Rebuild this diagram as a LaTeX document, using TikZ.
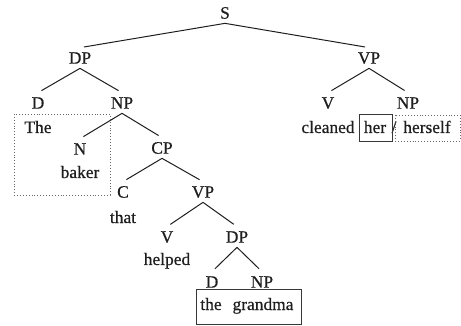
\documentclass[tikz,border=0pt]{standalone}
\usepackage{fontspec}
\setmainfont[FakeBold=0.6]{Liberation Serif}
\usetikzlibrary{positioning}
\definecolor{inkcolor}{RGB}{30,30,30}
\definecolor{boxcolor}{RGB}{55,55,55}
\definecolor{dotcolor}{RGB}{105,105,105}
\tikzset{
  %% cat : a category label of the tree
  cat/.style={
    inner sep=4.5pt,
    text height=11.3pt,
    text depth=0pt,
    text=inkcolor
  },
  %% word : a terminal word, placed on its baseline
  word/.style={
    inner sep=0pt,
    anchor=base,
    text=inkcolor
  },
  %% branch : line from mother to daughter
  branch/.style={draw=inkcolor, line width=1pt, shorten >=4pt},
  %% markbox : solid box round a phrase
  markbox/.style={draw=boxcolor, line width=0.9pt},
  %% dotbox : dotted box round a phrase
  dotbox/.style={draw=dotcolor, line width=0.9pt, dash pattern=on 0.9pt off 2pt}
}

\begin{document}
\begin{tikzpicture}
  [x=1pt,
  y=-1pt]
  \fontsize{17.4}{20}\selectfont
  \useasboundingbox (0,0) rectangle (461,326);

  %% Grid for orientation. Comment out for final figure!
  %\draw[help lines, green](0, 0) grid[step=20] (461, 326);

  %% Categories
  \node (s) [cat] at (225, 13) {S};

  \node (dp1) [cat] at (80, 58) {DP};
  \node (d1) [cat] at (38, 103) {D};
  \node (np1) [cat] at (122, 103) {NP};
  \node (n1) [cat] at (80, 149) {N};
  \node (cp) [cat] at (162, 148) {CP};
  \node (c) [cat] at (123, 192) {C};
  \node (vp2) [cat] at (203, 192) {VP};
  \node (v2) [cat] at (167, 237) {V};
  \node (dp2) [cat] at (237, 237) {DP};
  \node (d2) [cat] at (212, 282) {D};
  \node (np2) [cat] at (262, 282) {NP};

  \node (vp1) [cat] at (369, 58) {VP};
  \node (v1) [cat] at (328, 103) {V};
  \node (np3) [cat] at (408, 103) {NP};

  %% Words
  \node (the1) [word] at (38, 133) {The};
  \node (baker) [word] at (80, 178) {baker};
  \node (that) [word] at (123, 223) {that};
  \node (helped) [word] at (167, 265) {helped};
  \node (the2) [word] at (211, 310) {the};
  \node (grandma) [word] at (263, 310) {grandma};
  \node (cleaned) [word] at (328, 133) {cleaned};
  \node (her) [word] at (375, 133) {her};
  \node (slash) [word] at (394, 133) {/};
  \node (herself) [word] at (427, 133) {herself};

  %% Connections
  \draw [branch] (s.south) -- (dp1.north);
  \draw [branch] (s.south) -- (vp1.north);
  \draw [branch] (dp1.south) -- (d1.north);
  \draw [branch] (dp1.south) -- (np1.north);
  \draw [branch] (np1.south) -- (n1.north);
  \draw [branch] (np1.south) -- (cp.north);
  \draw [branch] (cp.south) -- (c.north);
  \draw [branch] (cp.south) -- (vp2.north);
  \draw [branch] (vp2.south) -- (v2.north);
  \draw [branch] (vp2.south) -- (dp2.north);
  \draw [branch] (dp2.south) -- (d2.north);
  \draw [branch] (dp2.south) -- (np2.north);
  \draw [branch] (vp1.south) -- (v1.north);
  \draw [branch] (vp1.south) -- (np3.north);

  %% Boxes
  \draw [dotbox] (14, 114) rectangle (110, 195);
  \draw [markbox] (196, 289) rectangle (301, 324);
  \draw [markbox] (359, 114) rectangle (392, 141);
  \draw [dotbox] (395, 115) rectangle (460, 141);

\end{tikzpicture}
\end{document}
